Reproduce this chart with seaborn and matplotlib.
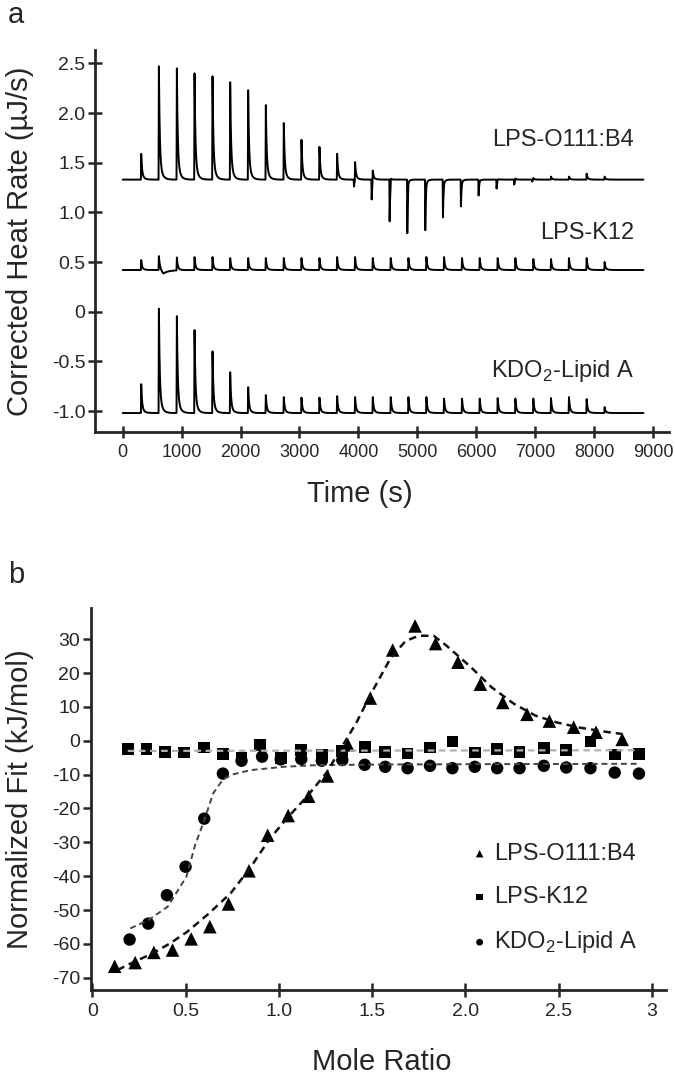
import numpy as np
import pandas as pd
import matplotlib
import matplotlib.pyplot as plt
import seaborn as sns

matplotlib.use('Agg')

# ---- panel a: ITC thermograms ----
inj_times = [290, 590, 895, 1195, 1500, 1800, 2105, 2405, 2710, 3010, 3315, 3615, 3920, 4220,
             4525, 4825, 5130, 5430, 5735, 6035, 6340, 6640, 6945, 7245, 7550, 7850, 8155]

o111_base = 1.33
o111_tops = [1.59, 2.47, 2.45, 2.40, 2.37, 2.31, 2.23, 2.08, 1.90, 1.73, 1.66, 1.59, 1.52, 1.46,
             1.42, 1.39, 1.36, 1.35, 1.34, 1.34, 1.35, 1.35, 1.35, 1.36, 1.36, 1.39, 1.36]
o111_dips = [1.33, 1.33, 1.33, 1.33, 1.33, 1.33, 1.33, 1.33, 1.33, 1.33, 1.33, 1.33, 1.26, 1.13,
             0.91, 0.79, 0.82, 0.95, 1.06, 1.17, 1.24, 1.28, 1.31, 1.33, 1.33, 1.33, 1.33]

k12_base = 0.42
k12_tops = [0.52, 0.56, 0.55, 0.55, 0.55, 0.54, 0.54, 0.54, 0.54, 0.54, 0.54, 0.55, 0.55, 0.54,
            0.54, 0.54, 0.55, 0.55, 0.54, 0.54, 0.54, 0.54, 0.53, 0.53, 0.54, 0.54, 0.50]
k12_dips = [0.42, 0.38, 0.42, 0.42, 0.42, 0.42, 0.42, 0.42, 0.42, 0.42, 0.42, 0.42, 0.42, 0.42,
            0.42, 0.42, 0.42, 0.42, 0.42, 0.42, 0.42, 0.42, 0.42, 0.42, 0.42, 0.42, 0.42]

kdo_base = -1.02
kdo_tops = [-0.73, 0.03, -0.045, -0.185, -0.40, -0.61, -0.76, -0.84, -0.86, -0.865, -0.865, -0.85,
            -0.86, -0.86, -0.86, -0.86, -0.86, -0.875, -0.875, -0.875, -0.87, -0.875, -0.875,
            -0.87, -0.86, -0.88, -0.96]

a_yticks = [2.5, 2.0, 1.5, 1.0, 0.5, 0, -0.5, -1.0]
a_yticklabels = ['2.5', '2.0', '1.5', '1.0', '0.5', '0', '-0.5', '-1.0']
a_xticks = [0, 1000, 2000, 3000, 4000, 5000, 6000, 7000, 8000, 9000]

# ---- panel b: integrated heats ----
tri_x = [0.12, 0.23, 0.33, 0.43, 0.53, 0.63, 0.73, 0.84, 0.94, 1.05, 1.16, 1.26, 1.37, 1.49,
         1.61, 1.73, 1.84, 1.96, 2.08, 2.20, 2.33, 2.45, 2.58, 2.70, 2.84]
tri_y = [-66.6, -65.5, -62.5, -61.8, -58.5, -54.9, -48.2, -38.4, -27.9, -22.1, -16.4, -10.4, -1.2,
         12.6, 26.8, 33.9, 28.7, 23.2, 16.7, 11.3, 7.8, 5.8, 4.0, 2.5, 0.4]

sq_x = [0.19, 0.29, 0.39, 0.49, 0.60, 0.70, 0.80, 0.90, 1.01, 1.12, 1.23, 1.34, 1.46, 1.57,
        1.69, 1.81, 1.93, 2.05, 2.17, 2.29, 2.42, 2.54, 2.67, 2.80, 2.93]
sq_y = [-2.5, -2.5, -3.3, -3.5, -2.0, -3.9, -5.0, -1.2, -5.1, -2.8, -4.1, -3.0, -1.8, -3.3,
        -3.8, -2.0, -0.2, -3.5, -2.5, -3.3, -2.2, -2.7, -0.2, -4.1, -3.9]

circ_x = [0.20, 0.30, 0.40, 0.50, 0.60, 0.70, 0.80, 0.91, 1.01, 1.12, 1.23, 1.34, 1.46, 1.57,
          1.69, 1.81, 1.93, 2.05, 2.17, 2.29, 2.42, 2.54, 2.67, 2.80, 2.93]
circ_y = [-58.7, -54.0, -45.6, -37.2, -23.0, -9.7, -5.9, -4.7, -5.5, -5.4, -5.9, -5.7, -7.1, -7.7,
          -8.1, -7.4, -8.1, -7.7, -8.1, -8.1, -7.4, -7.9, -8.1, -9.4, -9.7]

tri_fit_x = [0.135, 0.205, 0.322, 0.415, 0.509, 0.625, 0.742, 0.847, 0.95, 1.05, 1.15, 1.256,
             1.327, 1.417, 1.50, 1.60, 1.68, 1.75, 1.83, 1.90, 2.03, 2.14, 2.26, 2.376, 2.49,
             2.61, 2.77, 2.84]
tri_fit_y = [-67.7, -65.8, -62.8, -59.9, -56.4, -51.0, -45.0, -37.5, -29.0, -22.5, -16.5, -9.4,
             -2.8, 5.5, 14.5, 24.5, 29.5, 31.0, 31.0, 28.0, 21.7, 15.8, 10.9, 7.4, 5.4, 3.9, 2.5, 2.0]
circ_fit_x = [0.204, 0.30, 0.404, 0.504, 0.55, 0.60, 0.648, 0.702, 0.756, 0.845, 1.024, 1.2,
              1.6, 2.2, 2.93]
circ_fit_y = [-55.4, -53.0, -49.0, -40.2, -31.0, -23.5, -15.5, -11.3, -9.9, -8.7, -7.7, -7.2,
              -7.0, -6.9, -6.8]
sq_fit_x = [0.19, 2.93]
sq_fit_y = [-3.0, -2.8]

b_yticks = [30, 20, 10, 0, -10, -20, -30, -40, -50, -60, -70]
b_xticks = [0, 0.5, 1.0, 1.5, 2.0, 2.5, 3]
b_xticklabels = ['0', '0.5', '1.0', '1.5', '2.0', '2.5', '3']

names = ['LPS-O111:B4', 'LPS-K12', 'KDO$_2$-Lipid A']


def spike(u, rise, tau):
    # sharp injection spike: linear rise, fast decay with a short tail
    up = np.clip(u / rise, 0, 1)
    down = 0.8 * np.exp(-(u - rise) / tau) + 0.2 * np.exp(-(u - rise) / (3 * tau))
    return np.where(u < 0, 0.0, np.where(u < rise, up, down))


t = np.arange(0, 8840, 1.0)


def trace(base, tops, dips=None, dip_shape=(0, 5, 9)):
    sig = np.full_like(t, base)
    for i, t0 in enumerate(inj_times):
        sig += (tops[i] - base) * spike(t - t0 - 18, 6, 14)
        if dips is not None:
            d, r, tau = dip_shape
            sig += (dips[i] - base) * spike(t - t0 - d, r, tau)
    return sig


df_a = pd.concat([
    pd.DataFrame({'time': t, 'rate': trace(o111_base, o111_tops, o111_dips), 'sample': 'o111'}),
    pd.DataFrame({'time': t, 'rate': trace(k12_base, k12_tops, k12_dips, (40, 60, 70)), 'sample': 'k12'}),
    pd.DataFrame({'time': t, 'rate': trace(kdo_base, kdo_tops), 'sample': 'kdo'}),
])

sns.set_style('ticks')
plt.rcParams['font.family'] = ['Liberation Sans', 'DejaVu Sans']
plt.rcParams['axes.unicode_minus'] = False
plt.rcParams['mathtext.fontset'] = 'custom'
plt.rcParams['mathtext.rm'] = 'Liberation Sans'

W, H = 675, 1077
fig = plt.figure(figsize=(W / 100, H / 100), dpi=100)

# ---------------- panel a ----------------
ax1 = fig.add_axes([94.5 / W, 1 - 431.7 / H, 574 / W, 381.7 / H])
sns.lineplot(data=df_a, x='time', y='rate', units='sample', estimator=None, color='black',
             lw=1.4, ax=ax1)
ax1.set_xlim(-479, 9263)
ax1.set_ylim(-1.208, 2.635)
ax1.set_yticks(a_yticks)
ax1.set_yticklabels(a_yticklabels)
ax1.set_xticks(a_xticks)
ax1.set_xlabel('')
ax1.set_ylabel('')
ax1.tick_params(axis='y', direction='inout', length=10, width=1.8, labelsize=14, pad=1.5)
ax1.tick_params(axis='x', direction='inout', length=9, width=1.8, labelsize=13, pad=4)
for lab, yv in zip(names, [1.73, 0.79, -0.60]):
    ax1.text(8677, yv, lab, ha='right', va='center', fontsize=17)

# ---------------- panel b ----------------
ax2 = fig.add_axes([90.6 / W, 1 - 990 / H, 575.8 / W, 382 / H])
sns.scatterplot(x=tri_x, y=tri_y, marker='^', s=95, color='black', edgecolor='none',
                label=names[0], ax=ax2, zorder=2)
sns.scatterplot(x=sq_x, y=sq_y, marker='s', s=70, color='black', edgecolor='none',
                label=names[1], ax=ax2, zorder=2)
sns.scatterplot(x=circ_x, y=circ_y, marker='o', s=80, color='black', edgecolor='none',
                label=names[2], ax=ax2, zorder=2)
sns.lineplot(x=sq_fit_x, y=sq_fit_y, color='#b0b0b0', lw=1.6, ax=ax2, zorder=3,
             linestyle=(0, (3, 2)))
sns.lineplot(x=circ_fit_x, y=circ_fit_y, color='#444444', lw=1.4, ax=ax2, zorder=3,
             linestyle=(0, (3, 2)), sort=False)
sns.lineplot(x=tri_fit_x, y=tri_fit_y, color='#111111', lw=1.8, ax=ax2, zorder=3,
             linestyle=(0, (3, 2)), sort=False)
ax2.set_xlim(-0.009, 3.077)
ax2.set_ylim(-73.6, 39.2)
ax2.set_yticks(b_yticks)
ax2.set_xticks(b_xticks)
ax2.set_xticklabels(b_xticklabels)
ax2.set_xlabel('')
ax2.set_ylabel('')
ax2.tick_params(axis='y', direction='out', length=6, width=1.8, labelsize=14, pad=1.5)
ax2.tick_params(axis='x', direction='inout', length=10, width=1.8, labelsize=14, pad=4)
handles, labels = ax2.get_legend_handles_labels()
ax2.legend(handles[:3], labels[:3], loc='upper left', bbox_to_anchor=(0.6428, 0.416),
           frameon=False, fontsize=17, handletextpad=0.3, handlelength=0.6,
           labelspacing=0.9, markerscale=0.55, borderpad=0)

for ax in (ax1, ax2):
    sns.despine(ax=ax)
    for s in ('left', 'bottom'):
        ax.spines[s].set_linewidth(2)

fig.text(20 / W, 1 - 241 / H, 'Corrected Heat Rate (µJ/s)', rotation=90, ha='center',
         va='center', fontsize=21)
fig.text(20 / W, 1 - 799 / H, 'Normalized Fit (kJ/mol)', rotation=90, ha='center',
         va='center', fontsize=21)
fig.text(360 / W, 1 - 494 / H, 'Time (s)', ha='center', va='center', fontsize=21)
fig.text(382 / W, 1 - 1062 / H, 'Mole Ratio', ha='center', va='center', fontsize=21)
fig.text(8 / W, 1 - 15 / H, 'a', ha='left', va='center', fontsize=21)
fig.text(8 / W, 1 - 575 / H, 'b', ha='left', va='center', fontsize=21)

fig.savefig('out.png', dpi=100)
